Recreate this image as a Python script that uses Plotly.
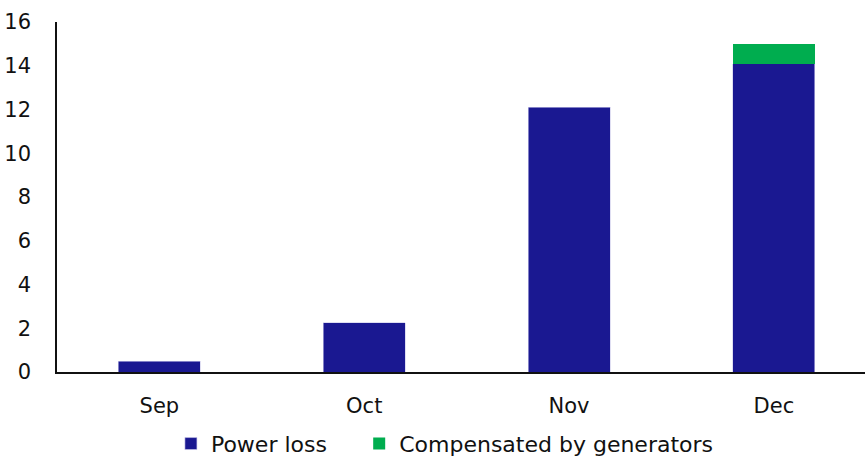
import plotly.graph_objects as go

months = ["Sep", "Oct", "Nov", "Dec"]
power_loss = [0.5, 2.25, 12.1, 14.1]
compensated = [0, 0, 0, 0.9]
y_ticks = [0, 2, 4, 6, 8, 10, 12, 14, 16]

fig = go.Figure()
fig.add_trace(go.Bar(x=months, y=power_loss, name="Power loss",
                     marker=dict(color="#1a1891", line=dict(color="#c9c8ea", width=0.6)),
                     width=0.4, legend="legend"))
fig.add_trace(go.Bar(x=months, y=compensated, name="Compensated by generators",
                     marker=dict(color="#00ad4f", line=dict(width=0)),
                     width=0.4, legend="legend2"))

font = "DejaVu Sans"
leg_common = dict(orientation="h", y=-0.205, yanchor="middle", xanchor="left",
                  font=dict(size=22), itemwidth=30, bgcolor="rgba(0,0,0,0)")
fig.update_layout(
    barmode="stack",
    width=865, height=458,
    margin=dict(l=57, r=0, t=22, b=85.5, autoexpand=False),
    plot_bgcolor="white", paper_bgcolor="white",
    font=dict(family=font, size=21, color="#111111"),
    showlegend=True,
    legend=dict(x=0.141, **leg_common),
    legend2=dict(x=0.374, **leg_common),
    xaxis=dict(range=[-0.5, 3.445], showline=True, linecolor="#111111", linewidth=1.5,
               showgrid=False, ticks="", tickfont=dict(size=21), ticklabelstandoff=14,
               automargin=False),
    yaxis=dict(range=[0, 16], tickvals=y_ticks, showline=True, linecolor="#111111",
               linewidth=1.5, showgrid=False, zeroline=False, ticks="",
               tickfont=dict(size=21), ticklabelstandoff=20, automargin=False),
)
fig.write_html("out.html", config={"displayModeBar": False},
               post_script="document.body.style.margin='0';document.body.style.overflow='hidden';")
